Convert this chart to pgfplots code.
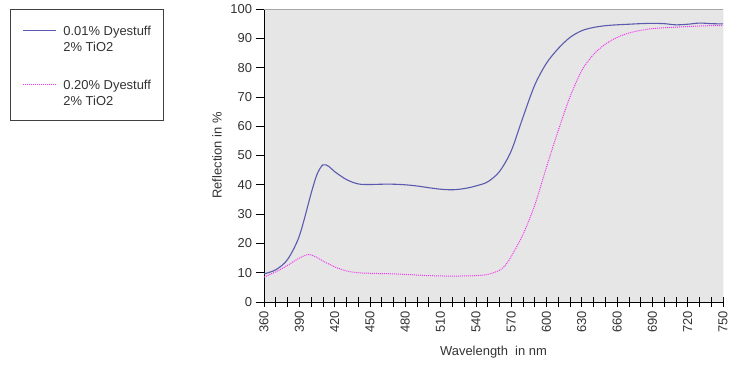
\documentclass[border=0pt]{standalone}
\usepackage{fontspec}
\setmainfont{Liberation Sans}
\usepackage{pgfplots}
\pgfplotsset{compat=1.18}
\definecolor{bg}{HTML}{E6E6E6}
\definecolor{blueline}{HTML}{5A5AAE}
\definecolor{magline}{HTML}{F035F0}
\definecolor{txt}{HTML}{333333}
\begin{document}
\begin{tikzpicture}
\useasboundingbox (-264bp,-70bp) rectangle (487bp,302bp);
\begin{axis}[
  scale only axis,
  width=459bp, height=293bp,
  xmin=360, xmax=750, ymin=0, ymax=100,
  xtick={360,390,...,750},
  minor xtick={370,380,...,740},
  ytick={0,10,...,100},
  axis lines*=left,
  axis line style={black, line width=0.8pt, -},
  axis background/.style={fill=bg},
  every tick/.style={black, line width=0.6pt},
  tick align=center,
  major tick length=9bp, minor tick length=9bp,
  ytick style={xshift=-3bp},
  xticklabel style={rotate=90, anchor=east, font=\fontsize{13}{15}\selectfont, text=txt, xshift=-1bp},
  yticklabel style={font=\fontsize{13}{15}\selectfont, text=txt, xshift=-4bp},
  /pgf/number format/assume math mode=true,
  xlabel={Wavelength\ \ in nm},
  ylabel={Reflection in \%},
  every axis x label/.style={at={(rel axis cs:0.5,0)}, yshift=-50bp, anchor=center},
  every axis y label/.style={at={(rel axis cs:0,0.5)}, xshift=-47bp, rotate=90, anchor=center},
  label style={font=\fontsize{13}{15}\selectfont, text=txt},
  legend style={at={(rel axis cs:0,1)}, xshift=-254bp, anchor=north west,
    draw=black!75, line width=0.6pt, font=\fontsize{13}{16}\selectfont, text=txt,
    inner xsep=12bp, inner ysep=9.5bp, row sep=0pt,
    nodes={inner sep=0pt, text height=10bp, text depth=5.5bp},
    /tikz/every odd column/.append style={column sep=7bp}},
  legend cell align=left,
  legend image code/.code={\path[draw=none, fill=none] (0bp,-5.5bp) rectangle (33bp,10bp);
     \draw[#1, line width=1.1pt] (0bp,3bp) -- (33bp,3bp);},
]
\addlegendimage{empty legend}
\addlegendentry[text height=4.5bp, text depth=0bp]{}
\addplot[blueline, line width=1.1pt, smooth] coordinates {
(360,9.6) (370,11) (380,14.5) (390,22.5) (400,37) (405,43.5) (410,46.8) (415,46.3) (420,44.5)
(430,41.8) (440,40.3) (450,40.1) (460,40.2) (470,40.2) (480,40) (490,39.6) (500,39)
(510,38.5) (520,38.3) (530,38.7) (540,39.6) (550,41) (560,44.5) (570,51.5)
(580,63) (590,74) (600,81.5) (610,86.5) (620,90.3) (630,92.6) (640,93.7) (650,94.3)
(660,94.6) (670,94.8) (680,95) (690,95.1) (700,95) (710,94.6) (720,94.8) (730,95.2)
(740,95) (750,94.9)};
\addlegendentry{0.01\% Dyestuff}
\addlegendimage{empty legend}
\addlegendentry{2\% TiO2}
\addlegendimage{empty legend}
\addlegendentry[text height=21bp, text depth=0bp]{}
\addplot[magline, line width=1.0pt, densely dotted, smooth] coordinates {
(360,8.5) (370,10.3) (380,12.5) (390,15) (398,16.2) (405,15.2) (410,14) (420,12)
(430,10.6) (440,10) (450,9.8) (460,9.7) (470,9.6) (480,9.4) (490,9.2) (500,9)
(510,8.9) (520,8.8) (530,8.9) (540,9) (550,9.4) (560,10.8) (565,12.5) (570,15.5)
(580,23) (590,33) (600,46) (610,58.5) (620,70) (630,79) (640,84.5) (650,88)
(660,90.3) (670,91.8) (680,92.7) (690,93.3) (700,93.6) (710,93.8) (720,94)
(730,94.2) (740,94.3) (750,94.3)};
\addlegendentry{0.20\% Dyestuff}
\addlegendimage{empty legend}
\addlegendentry{2\% TiO2}
\draw[black!35, line width=0.8pt] (rel axis cs:0,1) -- (rel axis cs:1,1) -- (rel axis cs:1,0);
\end{axis}
\end{tikzpicture}
\end{document}
